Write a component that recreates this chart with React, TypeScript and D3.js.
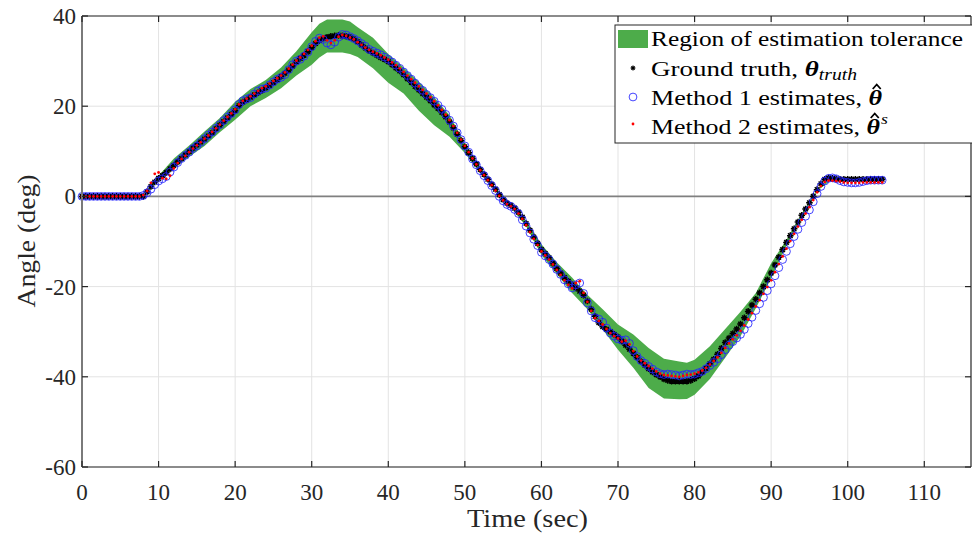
import React, { useEffect, useRef } from 'react';
import * as d3 from 'd3';

// samples every 0.5 s, starting at t = 0
const sampleStep = 0.5;

// ground truth angle (deg), one row = 5 s
const groundTruth = [
    0, 0, 0, 0, 0, 0, 0, 0, 0, 0,
    0, 0, 0, 0, 0, 0, 0, 1.0, 2.2, 3.2,
    4.0, 4.6, 5.3, 6.1, 6.9, 7.7, 8.4, 9.2, 9.9, 10.7,
    11.4, 12.1, 12.7, 13.4, 14.1, 15.0, 15.8, 16.6, 17.4, 18.2,
    19.0, 20.1, 20.9, 21.4, 22.0, 22.5, 23.0, 23.5, 24.1, 24.6,
    25.2, 25.9, 26.6, 27.3, 28.0, 28.9, 29.8, 30.6, 31.3, 32.1,
    33.0, 33.9, 34.6, 35.0, 35.3, 35.5, 35.6, 35.7, 35.6, 35.5,
    35.3, 34.9, 34.3, 33.6, 32.9, 32.3, 31.8, 31.3, 30.8, 30.4,
    29.9, 29.2, 28.5, 27.8, 27.0, 26.1, 25.3, 24.4, 23.6, 22.8,
    22.0, 21.2, 20.3, 19.5, 18.6, 17.6, 16.5, 15.2, 13.8, 12.4,
    11.0, 9.7, 8.4, 7.2, 6.0, 4.9, 3.8, 2.7, 1.6, 0.4,
    -0.7, -1.5, -2.0, -2.6, -3.5, -4.6, -6.0, -7.5, -9.0, -10.4,
    -11.8, -12.7, -13.6, -14.8, -16.0, -17.0, -18.0, -18.8, -19.6, -20.3,
    -21.0, -21.9, -23.2, -25.0, -26.6, -28.0, -28.9, -29.5, -30.0, -30.6,
    -31.2, -32.1, -33.0, -33.9, -34.8, -35.7, -36.6, -37.4, -38.2, -38.9,
    -39.5, -40.0, -40.5, -40.8, -41.0, -41.0, -41.0, -41.0, -41.0, -40.8,
    -40.4, -39.8, -39.0, -38.1, -37.1, -36.1, -35.0, -33.7, -32.4, -31.4,
    -30.4, -29.4, -28.3, -26.9, -25.5, -24.1, -22.8, -21.4, -20.0, -18.5,
    -17.0, -15.2, -13.5, -11.8, -10.2, -8.7, -7.2, -5.7, -4.2, -2.8,
    -1.4, 0.0, 1.5, 2.8, 3.8, 4.1, 4.0, 3.9, 3.8, 3.8,
    3.8, 3.8, 3.8, 3.8, 3.8, 3.8, 3.8, 3.8, 3.8, 3.8
];

// method 1 estimates (blue circles)
const method1 = [
    0, 0, 0, 0, 0, 0, 0, 0, 0, 0,
    0, 0, 0, 0, 0, 0, 0.2, 0.8, 1.6, 2.6,
    3.4, 3.9, 4.4, 5.4, 6.5, 7.5, 8.4, 9.1, 9.8, 10.6,
    11.2, 12.0, 12.8, 13.6, 14.3, 15.1, 15.9, 16.8, 17.6, 18.4,
    19.2, 20.4, 21.2, 21.6, 21.9, 22.7, 23.4, 23.8, 24.0, 24.7,
    25.4, 26.0, 26.4, 27.0, 28.1, 29.2, 30.0, 30.4, 31.1, 32.0,
    33.2, 34.4, 35.1, 34.8, 34.0, 33.6, 34.2, 35.3, 35.9, 35.8,
    35.4, 35.0, 34.5, 33.9, 33.3, 32.6, 32.2, 31.8, 31.4, 30.9,
    30.4, 29.8, 29.1, 28.4, 27.6, 26.8, 26.0, 25.1, 24.2, 23.5,
    22.6, 21.9, 21.1, 20.2, 19.3, 18.2, 16.9, 15.6, 14.1, 12.6,
    11.2, 9.8, 8.3, 7.0, 5.7, 4.6, 3.5, 2.4, 1.3, 0.0,
    -1.0, -1.8, -2.2, -2.9, -3.8, -5.2, -6.6, -8.1, -9.5, -10.9,
    -12.4, -13.2, -14.0, -15.0, -16.2, -17.3, -18.5, -19.4, -20.3, -19.6,
    -19.2, -21.5, -23.6, -25.4, -26.9, -27.2, -27.9, -29.2, -30.3, -31.0,
    -31.6, -31.9, -31.8, -32.6, -34.2, -35.5, -36.4, -37.0, -37.7, -38.3,
    -38.9, -39.3, -39.5, -39.4, -39.5, -39.6, -39.8, -39.6, -39.4, -39.5,
    -39.4, -39.1, -38.8, -38.2, -37.5, -36.8, -36.0, -35.1, -34.0, -33.0,
    -32.2, -31.4, -30.6, -29.5, -28.2, -26.8, -25.3, -23.8, -22.4, -20.9,
    -19.4, -17.6, -15.8, -14.0, -12.2, -10.5, -8.9, -7.3, -5.8, -4.4,
    -3.0, -1.2, 0.6, 2.2, 3.4, 4.0, 4.1, 3.9, 3.5, 3.2,
    3.1, 3.0, 3.0, 3.1, 3.3, 3.5, 3.6, 3.6, 3.6, 3.6
];

// method 2 estimates (red dots)
const method2 = [
    0, 0, 0, 0, 0, 0, 0, 0, 0, 0,
    0, 0, 0, 0, 0, 0, 0.3, 1.2, 3.0, 5.0,
    5.3, 4.0, 3.9, 4.6, 6.2, 7.4, 8.3, 9.0, 9.8, 10.6,
    11.3, 12.0, 12.8, 13.5, 14.3, 15.1, 15.9, 16.8, 17.6, 18.4,
    19.3, 20.4, 21.2, 21.7, 22.2, 22.8, 23.4, 24.0, 24.4, 25.0,
    25.6, 26.2, 26.8, 27.5, 28.3, 29.2, 30.1, 30.8, 31.6, 32.5,
    33.4, 34.4, 35.2, 35.5, 34.6, 34.0, 34.6, 35.4, 35.8, 35.6,
    35.2, 34.8, 34.2, 33.6, 33.0, 32.5, 32.1, 31.7, 31.3, 30.8,
    30.3, 29.7, 29.1, 28.4, 27.6, 26.8, 26.0, 25.2, 24.4, 23.6,
    22.8, 22.0, 21.1, 20.2, 19.2, 18.1, 16.9, 15.6, 14.1, 12.6,
    11.2, 9.8, 8.4, 7.1, 5.8, 4.7, 3.6, 2.5, 1.3, 0.1,
    -0.9, -1.7, -2.2, -2.8, -3.8, -5.0, -6.4, -7.9, -9.4, -10.8,
    -12.2, -13.1, -14.0, -15.1, -16.3, -17.4, -18.6, -19.6, -20.4, -19.2,
    -18.8, -21.4, -23.4, -25.4, -27.0, -27.6, -28.4, -29.4, -30.3, -31.0,
    -31.5, -32.2, -32.0, -32.8, -34.3, -35.5, -36.4, -37.0, -37.6, -38.2,
    -38.8, -39.3, -39.6, -39.7, -39.8, -39.9, -40.0, -39.8, -39.6, -39.5,
    -39.3, -39.0, -38.6, -38.0, -37.3, -36.5, -35.7, -34.7, -33.6, -32.6,
    -31.7, -30.8, -29.8, -28.6, -27.3, -25.9, -24.4, -23.0, -21.6, -20.1,
    -18.6, -16.8, -15.0, -13.3, -11.6, -9.9, -8.3, -6.7, -5.2, -3.8,
    -2.4, -0.8, 0.9, 2.3, 3.2, 3.5, 3.5, 3.4, 3.3, 3.1,
    3.0, 3.0, 3.0, 3.0, 3.1, 3.1, 3.1, 3.1, 3.1, 3.1
];

// region of estimation tolerance
const bandTime = [8, 10, 12, 14, 16, 18, 20, 22, 24, 26, 28, 30, 31, 32, 34, 35, 36, 38, 40, 42, 44, 46, 48, 50,
    52, 54, 56, 58, 60, 62, 64, 66, 68, 70, 72, 74, 76, 78, 79, 80, 82, 84, 86, 88, 90, 92, 94, 96, 98, 104.5];
const bandUpper = [0.2, 4.6, 8.4, 11.3, 14.4, 17.4, 21.0, 23.8, 25.8, 28.6, 32.2, 36.4, 38.3, 39.2, 39.2, 38.8, 37.5, 35.2, 31.6, 28.6, 25.4, 22.0, 18.0, 11.8,
    6.6, 2.0, -1.6, -5.4, -10.6, -14.6, -18.0, -21.8, -25.0, -28.4, -30.6, -33.6, -36.0, -36.6, -36.9, -36.2, -33.2, -29.4, -25.6, -21.4, -14.8, -9.6, -3.8, 1.6, 4.2, 3.9];
const bandLower = [-0.2, 3.6, 6.2, 8.8, 11.2, 14.2, 17.0, 20.0, 21.8, 24.0, 26.8, 29.2, 30.8, 31.9, 31.9, 31.6, 30.9, 28.4, 25.2, 22.8, 19.0, 15.8, 13.2, 9.6,
    5.2, 1.2, -2.4, -6.6, -13.0, -17.2, -21.4, -25.0, -29.5, -34.0, -38.0, -42.5, -44.8, -45.0, -44.9, -44.0, -40.5, -35.8, -31.0, -24.8, -18.2, -11.0, -4.6, 1.2, 3.8, 3.6];

const xTicks = [0, 10, 20, 30, 40, 50, 60, 70, 80, 90, 100, 110];
const yTicks = [-60, -40, -20, 0, 20, 40];

const FONT = "'Liberation Serif', 'DejaVu Serif', serif";

export default function App() {
    const ref = useRef<SVGSVGElement>(null);

    useEffect(() => {
        const width = 972, height = 538;
        const left = 82, right = 971, top = 16, bottom = 467;

        const svg = d3.select(ref.current);
        svg.selectAll('*').remove();

        svg.append('rect').attr('width', width).attr('height', height).attr('fill', '#fff');

        const x = d3.scaleLinear().domain([0, 116.1]).range([left, right]);
        const y = d3.scaleLinear().domain([-60, 40]).range([bottom, top]);

        // grid
        const grid = svg.append('g');
        grid.selectAll('.vg').data(xTicks.slice(1)).enter().append('line')
            .attr('x1', d => x(d)).attr('x2', d => x(d))
            .attr('y1', top).attr('y2', bottom)
            .attr('stroke', '#e3e3e3').attr('stroke-width', 1);
        grid.selectAll('.hg').data(yTicks).enter().append('line')
            .attr('x1', left).attr('x2', right)
            .attr('y1', d => y(d)).attr('y2', d => y(d))
            .attr('stroke', '#e3e3e3').attr('stroke-width', 1);

        // zero line
        svg.append('line')
            .attr('x1', left).attr('x2', right)
            .attr('y1', y(0)).attr('y2', y(0))
            .attr('stroke', '#808080').attr('stroke-width', 1.6);

        // tolerance band
        const bandData = bandTime.map((t, i) => ({ t, hi: bandUpper[i], lo: bandLower[i] }));
        const area = d3.area<{ t: number, hi: number, lo: number }>()
            .x(d => x(d.t))
            .y0(d => y(d.lo))
            .y1(d => y(d.hi));
        svg.append('path').datum(bandData)
            .attr('d', area)
            .attr('fill', '#4dac4a');

        const pts = (arr: number[]) => arr.map((v, i) => ({ t: i * sampleStep, v }));

        // ground truth, asterisk markers
        const star = 'M-3.3,0H3.3M0,-3.3V3.3M-2.3,-2.3L2.3,2.3M-2.3,2.3L2.3,-2.3';
        svg.append('g').selectAll('path').data(pts(groundTruth)).enter().append('path')
            .attr('d', star)
            .attr('transform', d => `translate(${x(d.t)},${y(d.v)})`)
            .attr('stroke', '#000').attr('stroke-width', 1.5).attr('fill', 'none');

        // method 1
        svg.append('g').selectAll('circle').data(pts(method1)).enter().append('circle')
            .attr('cx', d => x(d.t)).attr('cy', d => y(d.v)).attr('r', 3.9)
            .attr('fill', 'none').attr('stroke', '#2323ff').attr('stroke-width', 0.85);

        // method 2
        svg.append('g').selectAll('circle').data(pts(method2)).enter().append('circle')
            .attr('cx', d => x(d.t)).attr('cy', d => y(d.v)).attr('r', 1.4)
            .attr('fill', '#ff0000');

        // axes box
        const axisColor = '#262626';
        svg.append('line').attr('x1', left).attr('x2', right).attr('y1', top).attr('y2', top)
            .attr('stroke', axisColor).attr('stroke-width', 1.2);
        svg.append('line').attr('x1', left).attr('x2', right).attr('y1', bottom).attr('y2', bottom)
            .attr('stroke', axisColor).attr('stroke-width', 1.2);
        svg.append('line').attr('x1', right).attr('x2', right).attr('y1', top).attr('y2', bottom)
            .attr('stroke', axisColor).attr('stroke-width', 1.2);
        svg.append('line').attr('x1', left).attr('x2', left).attr('y1', top).attr('y2', bottom)
            .attr('stroke', '#7a7a7a').attr('stroke-width', 2);

        // ticks (inward)
        const tickLen = 6;
        const ticks = svg.append('g').attr('stroke', axisColor).attr('stroke-width', 1.2);
        xTicks.forEach(d => {
            ticks.append('line').attr('x1', x(d)).attr('x2', x(d)).attr('y1', bottom).attr('y2', bottom - tickLen);
            ticks.append('line').attr('x1', x(d)).attr('x2', x(d)).attr('y1', top).attr('y2', top + tickLen);
        });
        yTicks.forEach(d => {
            ticks.append('line').attr('x1', left).attr('x2', left + tickLen).attr('y1', y(d)).attr('y2', y(d));
            ticks.append('line').attr('x1', right).attr('x2', right - tickLen).attr('y1', y(d)).attr('y2', y(d));
        });

        // tick labels
        svg.append('g').selectAll('text').data(xTicks).enter().append('text')
            .attr('x', d => x(d)).attr('y', 500)
            .attr('text-anchor', 'middle')
            .attr('font-family', FONT).attr('font-size', 23).attr('fill', '#262626')
            .text(d => d);
        svg.append('g').selectAll('text').data(yTicks).enter().append('text')
            .attr('x', 76).attr('y', d => y(d) + 8)
            .attr('text-anchor', 'end')
            .attr('font-family', FONT).attr('font-size', 23).attr('fill', '#262626')
            .text(d => d);

        // axis titles
        svg.append('text')
            .attr('x', 527.5).attr('y', 527)
            .attr('text-anchor', 'middle')
            .attr('font-family', FONT).attr('font-size', 25).attr('fill', '#262626')
            .attr('textLength', 121).attr('lengthAdjust', 'spacingAndGlyphs')
            .text('Time (sec)');
        svg.append('text')
            .attr('transform', 'translate(35,241) rotate(-90)')
            .attr('text-anchor', 'middle')
            .attr('font-family', FONT).attr('font-size', 25).attr('fill', '#262626')
            .attr('textLength', 133).attr('lengthAdjust', 'spacingAndGlyphs')
            .text('Angle (deg)');

        // legend
        const lg = svg.append('g').attr('font-family', FONT).attr('font-size', 22).attr('fill', '#000');
        lg.append('rect').attr('x', 615).attr('y', 25).attr('width', 360).attr('height', 118)
            .attr('fill', '#fff').attr('stroke', axisColor).attr('stroke-width', 1);
        lg.append('rect').attr('x', 618).attr('y', 30).attr('width', 30).attr('height', 18).attr('fill', '#4dac4a');
        lg.append('path').attr('d', star).attr('transform', 'translate(633,68) scale(0.75)')
            .attr('stroke', '#000').attr('stroke-width', 1.5);
        lg.append('circle').attr('cx', 633).attr('cy', 97).attr('r', 3.9)
            .attr('fill', 'none').attr('stroke', '#2323ff').attr('stroke-width', 0.85);
        lg.append('circle').attr('cx', 633).attr('cy', 124).attr('r', 1.4).attr('fill', '#ff0000');

        const stretch = (sel: any, len: number) =>
            sel.attr('textLength', len).attr('lengthAdjust', 'spacingAndGlyphs');

        stretch(lg.append('text').attr('x', 651).attr('y', 46), 312).text('Region of estimation tolerance');

        const t2 = stretch(lg.append('text').attr('x', 651).attr('y', 76), 206);
        t2.append('tspan').text('Ground truth, ');
        t2.append('tspan').attr('font-weight', 'bold').attr('font-style', 'italic').text('\u03B8');
        t2.append('tspan').attr('font-style', 'italic').attr('font-size', 16).attr('dy', 4).text('truth');

        const t3 = stretch(lg.append('text').attr('x', 651).attr('y', 105), 231);
        t3.append('tspan').text('Method 1 estimates, ');
        t3.append('tspan').attr('font-weight', 'bold').attr('font-style', 'italic').text('\u03B8');

        const t4 = stretch(lg.append('text').attr('x', 651).attr('y', 134), 237);
        t4.append('tspan').text('Method 2 estimates, ');
        t4.append('tspan').attr('font-weight', 'bold').attr('font-style', 'italic').text('\u03B8');
        t4.append('tspan').attr('font-style', 'italic').attr('font-size', 15).attr('dy', -10).attr('dx', 1).text('s');

        // hats over theta
        [[t3, 105], [t4, 134]].forEach(([t, base]: any) => {
            const node = t.node() as SVGTextElement;
            const box = node.getExtentOfChar(20);
            const cx = box.x + box.width / 2 + 1.5;
            lg.append('path')
                .attr('d', `M${cx - 4},${base - 16}L${cx},${base - 20.5}L${cx + 4},${base - 16}`)
                .attr('fill', 'none').attr('stroke', '#000').attr('stroke-width', 1.8);
        });
    }, []);

    return (
        <svg ref={ref} width={972} height={538}
             style={{ position: 'absolute', left: 0, top: 0 }} />
    );
}
